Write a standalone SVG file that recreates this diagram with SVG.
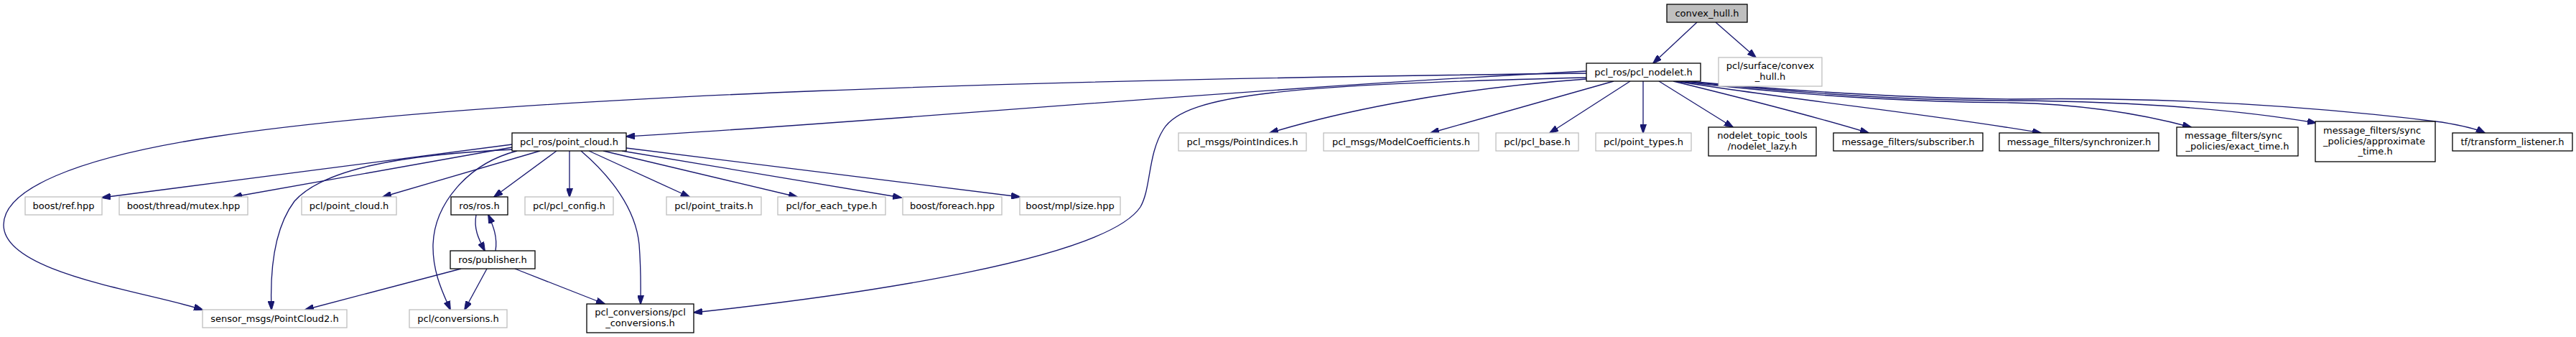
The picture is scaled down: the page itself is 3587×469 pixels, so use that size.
<svg xmlns="http://www.w3.org/2000/svg" width="3587" height="469" viewBox="0 0 3587 469">
<style>
.n rect{fill:#fff;stroke:#000;stroke-width:1.3}
.g rect{fill:#fff;stroke:#bfbfbf;stroke-width:1.3}
.root rect{fill:#bfbfbf;stroke:#000;stroke-width:1.3}
text{font-family:"DejaVu Sans","Liberation Sans",sans-serif;font-size:13px;fill:#000;text-anchor:middle}
text.l{text-anchor:start}
#edges path{fill:none;stroke:#191970;stroke-width:1.33;marker-end:url(#arr)}
</style>
<defs>
<marker id="arr" viewBox="0 0 13 9" refX="12" refY="4.5" markerWidth="13" markerHeight="9" markerUnits="userSpaceOnUse" orient="auto">
<path d="M0,0 L13,4.5 L0,9 z" fill="#191970" stroke="#191970" stroke-width="1"/>
</marker>
</defs>
<rect width="3587" height="469" fill="#fff"/>
<g id="edges">
<path d="M2363,31 L2302,88"/>
<path d="M2389,31 L2445,80"/>
<path d="M2209,99 C1700,125 1250,168 872,190"/>
<path d="M2209,102 C1500,110 700,130 300,190 C100,220 5,265 5,313 C5,380 200,405 282,431"/>
<path d="M2209,108 C1800,118 1650,130 1620,180 C1598,215 1603,262 1588,288 C1540,360 1200,410 966,435"/>
<path d="M2209,110 C2000,125 1850,160 1768,185"/>
<path d="M2247,113 L1992,185"/>
<path d="M2270,113 L2158,185"/>
<path d="M2288,113 L2288,185"/>
<path d="M2310,113 L2413,177"/>
<path d="M2330,113 C2420,135 2520,160 2602,185"/>
<path d="M2334,113 C2500,140 2700,160 2842,185"/>
<path d="M2336,113 C2550,138 2700,142 2800,143 C2900,145 2980,158 3051,177"/>
<path d="M2338,112 C2550,135 2700,140 2800,140 C2950,141 3100,150 3225,171"/>
<path d="M2340,112 C2550,132 2700,137 2800,138 C3000,135 3200,145 3400,170 C3430,175 3450,180 3460,185"/>
<path d="M713,201 L142,275"/>
<path d="M713,205 L325,274"/>
<path d="M716,208 C560,215 450,235 410,280 C380,320 376,380 378,431"/>
<path d="M752,210 L533,274"/>
<path d="M720,210 C650,228 605,285 603,340 C602,380 618,410 627,431"/>
<path d="M775,210 L688,274"/>
<path d="M793,210 L793,274"/>
<path d="M809,210 C850,245 885,290 890,340 C893,380 892,400 892,423"/>
<path d="M820,210 L960,274"/>
<path d="M840,210 L1110,274"/>
<path d="M866,210 L1255,275"/>
<path d="M872,206 L1420,274"/>
<path d="M663,299 C659,320 668,335 675,349"/>
<path d="M690,349 C693,330 687,315 680,299"/>
<path d="M678,374 L647,431"/>
<path d="M717,374 L842,423"/>
<path d="M642,374 L425,431"/>
</g>
<g id="node_convex_hull" class="root"><rect x="2321" y="6" width="112" height="25"/><text x="2377" y="23">convex_hull.h</text></g>
<g id="node_pcl_nodelet" class="n"><rect x="2209" y="88" width="159" height="25"/><text x="2288.5" y="105">pcl_ros/pcl_nodelet.h</text></g>
<g id="node_surface_convex_hull" class="g"><rect x="2393" y="80" width="144" height="40"/><text x="2465" y="96">pcl/surface/convex</text><text x="2465" y="111">_hull.h</text></g>
<g id="node_point_cloud_ros" class="n"><rect x="713" y="185" width="159" height="25"/><text x="792.5" y="202">pcl_ros/point_cloud.h</text></g>
<g id="node_point_indices" class="g"><rect x="1641" y="185" width="178" height="25"/><text x="1730" y="202">pcl_msgs/PointIndices.h</text></g>
<g id="node_model_coefficients" class="g"><rect x="1843" y="185" width="216" height="25"/><text x="1951" y="202">pcl_msgs/ModelCoefficients.h</text></g>
<g id="node_pcl_base" class="g"><rect x="2083" y="185" width="115" height="25"/><text x="2140.5" y="202">pcl/pcl_base.h</text></g>
<g id="node_point_types" class="g"><rect x="2222" y="185" width="133" height="25"/><text x="2288.5" y="202">pcl/point_types.h</text></g>
<g id="node_nodelet_lazy" class="n"><rect x="2379" y="177" width="150" height="40"/><text x="2454" y="193">nodelet_topic_tools</text><text x="2454" y="208">/nodelet_lazy.h</text></g>
<g id="node_subscriber" class="n"><rect x="2553" y="185" width="208" height="25"/><text x="2657" y="202">message_filters/subscriber.h</text></g>
<g id="node_synchronizer" class="n"><rect x="2784" y="185" width="222" height="25"/><text x="2895" y="202">message_filters/synchronizer.h</text></g>
<g id="node_exact_time" class="n"><rect x="3031" y="177" width="169" height="40"/><text class="l" x="3042" y="193">message_filters/sync</text><text x="3115.5" y="208">_policies/exact_time.h</text></g>
<g id="node_approximate_time" class="n"><rect x="3224" y="169" width="167" height="56"/><text class="l" x="3235" y="186">message_filters/sync</text><text class="l" x="3235" y="201">_policies/approximate</text><text x="3307.5" y="215">_time.h</text></g>
<g id="node_transform_listener" class="n"><rect x="3415" y="185" width="167" height="25"/><text x="3498.5" y="202">tf/transform_listener.h</text></g>
<g id="node_boost_ref" class="g"><rect x="35" y="274" width="107" height="25"/><text x="88.5" y="291">boost/ref.hpp</text></g>
<g id="node_boost_mutex" class="g"><rect x="166" y="274" width="179" height="25"/><text x="255.5" y="291">boost/thread/mutex.hpp</text></g>
<g id="node_pcl_point_cloud" class="g"><rect x="420" y="274" width="132" height="25"/><text x="486" y="291">pcl/point_cloud.h</text></g>
<g id="node_ros_ros" class="n"><rect x="628" y="274" width="79" height="25"/><text x="667.5" y="291">ros/ros.h</text></g>
<g id="node_pcl_config" class="g"><rect x="731" y="274" width="123" height="25"/><text x="792.5" y="291">pcl/pcl_config.h</text></g>
<g id="node_point_traits" class="g"><rect x="928" y="274" width="132" height="25"/><text x="994" y="291">pcl/point_traits.h</text></g>
<g id="node_for_each_type" class="g"><rect x="1083" y="274" width="150" height="25"/><text x="1158" y="291">pcl/for_each_type.h</text></g>
<g id="node_boost_foreach" class="g"><rect x="1257" y="274" width="138" height="25"/><text x="1326" y="291">boost/foreach.hpp</text></g>
<g id="node_boost_mpl_size" class="g"><rect x="1420" y="274" width="140" height="25"/><text x="1490" y="291">boost/mpl/size.hpp</text></g>
<g id="node_ros_publisher" class="n"><rect x="627" y="349" width="118" height="25"/><text x="686" y="366">ros/publisher.h</text></g>
<g id="node_sensor_pointcloud2" class="g"><rect x="282" y="431" width="201" height="25"/><text x="382.5" y="448">sensor_msgs/PointCloud2.h</text></g>
<g id="node_pcl_conversions_h" class="g"><rect x="570" y="431" width="136" height="25"/><text x="638" y="448">pcl/conversions.h</text></g>
<g id="node_pcl_conversions_pcl" class="n"><rect x="817" y="423" width="149" height="40"/><text x="891.5" y="439">pcl_conversions/pcl</text><text x="891.5" y="454">_conversions.h</text></g>
</svg>
